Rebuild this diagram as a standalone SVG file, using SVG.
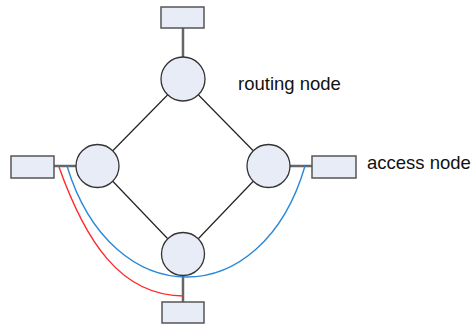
<svg xmlns="http://www.w3.org/2000/svg" width="474" height="325" viewBox="0 0 474 325">
  <style>
    .router { fill: #e7ecf6; stroke: #333333; stroke-width: 1.3; }
    .access { fill: #e7ecf6; stroke: #555555; stroke-width: 1.5; }
    .link { stroke: #222222; stroke-width: 1.2; fill: none; }
    .tail { stroke: #666666; stroke-width: 2.5; fill: none; }
    .path-blue { stroke: #2a88d8; stroke-width: 1.4; fill: none; }
    .path-red { stroke: #ff2a2a; stroke-width: 1.4; fill: none; }
    .label { font-family: "Liberation Sans", Arial, sans-serif; font-size: 18.5px; fill: #111111; }
  </style>
  <rect width="474" height="325" fill="#ffffff"/>

  <!-- connectors -->
  <g id="connectors">
    <line class="tail" x1="183" y1="28" x2="183" y2="57"/>
    <line class="tail" x1="54" y1="166" x2="76" y2="166"/>
    <line class="tail" x1="290" y1="166" x2="312" y2="166"/>
    <line class="tail" x1="183" y1="275" x2="183" y2="302"/>
    <line class="link" x1="167.5" y1="95" x2="113" y2="150.5"/>
    <line class="link" x1="198.5" y1="95" x2="253" y2="150.5"/>
    <line class="link" x1="113" y1="181.5" x2="167.5" y2="238.5"/>
    <line class="link" x1="253" y1="181.5" x2="198.5" y2="238.5"/>
    <path class="path-red" d="M59,167 C85,240 120,296 184,296"/>
    <path class="path-blue" d="M67,166 C112,314 262,314 305,166"/>
  </g>

  <!-- routing nodes -->
  <g id="router-top"><circle class="router" cx="183" cy="79" r="22"/></g>
  <g id="router-left"><circle class="router" cx="97.5" cy="166" r="21.5"/></g>
  <g id="router-right"><circle class="router" cx="268.5" cy="166" r="21.5"/></g>
  <g id="router-bottom"><circle class="router" cx="183" cy="254" r="21.5"/></g>

  <!-- access nodes -->
  <g id="access-top"><rect class="access" x="161" y="7" width="43" height="21"/></g>
  <g id="access-left"><rect class="access" x="11" y="156" width="43" height="22"/></g>
  <g id="access-right"><rect class="access" x="312" y="156" width="44" height="22"/></g>
  <g id="access-bottom"><rect class="access" x="162" y="302" width="42" height="21"/></g>

  <!-- labels -->
  <g id="labels">
    <text class="label" x="238" y="90">routing node</text>
    <text class="label" x="367" y="169">access node</text>
  </g>
</svg>
